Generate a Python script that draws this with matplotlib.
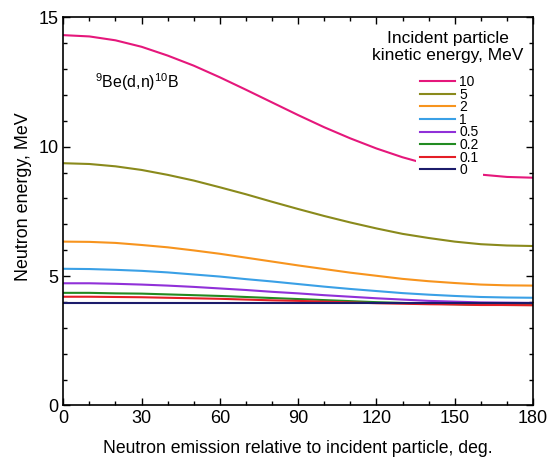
import matplotlib

matplotlib.use("Agg")
import matplotlib.pyplot as plt
from matplotlib.ticker import MultipleLocator

plt.rcParams["font.family"] = ["Liberation Sans", "DejaVu Sans"]

# neutron emission angle, deg
angles = [0, 10, 20, 30, 40, 50, 60, 70, 80, 90,
          100, 110, 120, 130, 140, 150, 160, 170, 180]

# neutron energy (MeV), keyed by incident deuteron energy
e_10 = [14.31, 14.26, 14.11, 13.86, 13.52, 13.13, 12.68, 12.20, 11.71, 11.22,
        10.75, 10.32, 9.93, 9.59, 9.31, 9.09, 8.92, 8.83, 8.80]
e_5 = [9.36, 9.33, 9.24, 9.10, 8.91, 8.69, 8.43, 8.16, 7.87, 7.59,
       7.32, 7.07, 6.84, 6.63, 6.47, 6.33, 6.23, 6.18, 6.16]
e_2 = [6.33, 6.32, 6.28, 6.20, 6.11, 5.99, 5.86, 5.71, 5.56, 5.41,
       5.27, 5.13, 5.01, 4.89, 4.80, 4.73, 4.67, 4.64, 4.63]
e_1 = [5.28, 5.27, 5.24, 5.20, 5.14, 5.06, 4.98, 4.88, 4.79, 4.69,
       4.59, 4.50, 4.42, 4.34, 4.28, 4.23, 4.19, 4.17, 4.16]
e_05 = [4.72, 4.72, 4.70, 4.67, 4.63, 4.58, 4.52, 4.46, 4.39, 4.33,
        4.26, 4.20, 4.14, 4.09, 4.04, 4.01, 3.98, 3.97, 3.96]
e_02 = [4.35, 4.35, 4.33, 4.32, 4.29, 4.26, 4.23, 4.19, 4.15, 4.11,
        4.07, 4.03, 3.99, 3.96, 3.93, 3.91, 3.89, 3.88, 3.88]
e_01 = [4.20, 4.20, 4.19, 4.18, 4.16, 4.14, 4.12, 4.09, 4.06, 4.04,
        4.01, 3.98, 3.95, 3.93, 3.91, 3.90, 3.88, 3.88, 3.87]
e_0 = [3.96] * len(angles)

labels = ["10", "5", "2", "1", "0.5", "0.2", "0.1", "0"]
series = [e_10, e_5, e_2, e_1, e_05, e_02, e_01, e_0]
colors = ["#e5177b", "#8a8a1c", "#f7941e", "#3aa0e6", "#9030d8",
          "#228b22", "#e41e26", "#1c1c6b"]

fig = plt.figure(figsize=(5.47, 4.61), dpi=100)
ax = fig.add_axes([0.1157, 0.1206, 0.8587, 0.8419])

for vals, lab, col in zip(series, labels, colors):
    ax.plot(angles, vals, color=col, lw=1.5, label=lab)

ax.set_xlim(0, 180)
ax.set_ylim(0, 15)
ax.xaxis.set_major_locator(MultipleLocator(30))
ax.xaxis.set_minor_locator(MultipleLocator(10))
ax.yaxis.set_major_locator(MultipleLocator(5))
ax.yaxis.set_minor_locator(MultipleLocator(1))
ax.tick_params(which="both", direction="in", top=True, right=True,
               labelsize=13, width=1.0)
ax.tick_params(which="major", length=5)
ax.tick_params(which="minor", length=3)
for sp in ax.spines.values():
    sp.set_linewidth(1.2)

ax.set_xlabel("Neutron emission relative to incident particle, deg.",
              fontsize=12.7, labelpad=9)
ax.set_ylabel("Neutron energy, MeV", fontsize=12.9)
ax.yaxis.set_label_coords(-0.0666, 0.537)

ax.text(0.0675, 0.834, r"$\mathregular{^{9}}$Be(d,n)$\mathregular{^{10}}$B",
        transform=ax.transAxes, fontsize=11.5, ha="left", va="center")
ax.text(0.819, 0.9235, "Incident particle\nkinetic energy, MeV",
        transform=ax.transAxes, fontsize=12.5, ha="center", va="center",
        linespacing=1.2)

# white box behind the entries hides the 10 MeV curve, as in the source figure
leg = ax.legend(loc="upper right", bbox_to_anchor=(0.893, 0.862),
                fontsize=10, frameon=True, facecolor="white",
                edgecolor="none", framealpha=1.0, fancybox=False,
                handlelength=2.5, handletextpad=0.3, labelspacing=-0.1,
                borderpad=0.3, borderaxespad=0.0)

fig.savefig("out.png", dpi=100)
